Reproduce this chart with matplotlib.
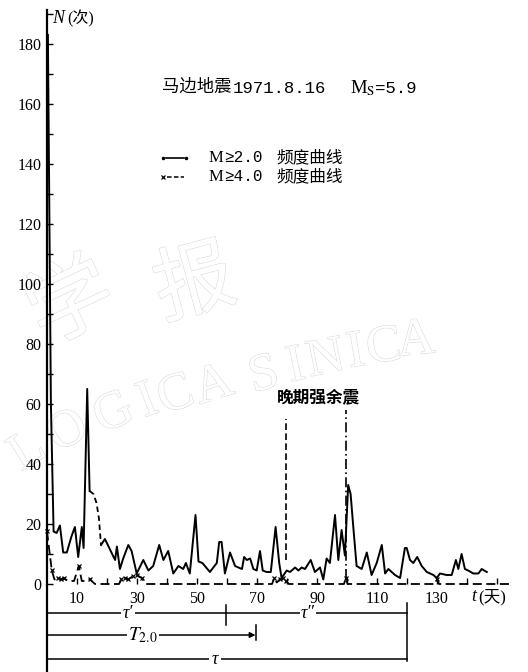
import numpy as np
import matplotlib.pyplot as plt
from matplotlib import patheffects

plt.rcParams['font.family'] = ['Liberation Serif', 'Noto Sans CJK SC']
plt.rcParams['mathtext.fontset'] = 'stix'

# M>=2.0 频度 (天, 次数)
t_m2 = [0.3, 1.3, 2.2, 3.2, 4.3, 5.4, 6.6, 8.2, 9.3, 10.4, 11.6, 12.2, 13.4, 14.2]
n_m2 = [183, 60, 17.5, 17, 19.5, 10.5, 10.5, 16, 19, 9, 19, 12, 65, 31]
# 14-18天 缺测段, 虚线连接
t_gap = [14.2, 15.5, 16.5, 17.3, 18.0]
n_gap = [31, 30, 27, 22, 13]
t_m2b = [18.0, 19.3, 21, 22.7, 23.3, 24.3, 25.4, 27.1, 28.2, 29.9, 32.1, 33.8, 35.4, 37.4,
         38.8, 40.4, 42.1, 43.8, 45.4, 46.3, 47.6, 49.5, 50.5, 51.8, 54.3, 56.6, 57.4, 58.2,
         59.3, 61, 62.7, 63.8, 65, 65.7, 66.6, 67.7, 68.8, 69.9, 71, 71.9, 73.2, 74.6, 76.2,
         77.4, 78.2, 79.9, 81, 82.7, 83.8, 84.9, 86, 87.9, 89.3, 91, 92.1, 93.2, 94.3, 96,
         97.1, 98.2, 99.3, 100.4, 101.2, 102.1, 103.2, 104.9, 106.6, 108.2, 109.9, 111.6,
         112.7, 113.8, 116, 117.7, 119.3, 119.9, 121, 122.1, 123.4, 124.9, 126.6, 128.8,
         129.9, 131, 133.2, 134.9, 136.3, 137.1, 138.2, 139.3, 140.4, 142.1, 143.8, 144.9, 146.6]
n_m2b = [13, 15, 11.5, 8, 12.5, 5, 8.5, 13, 11, 3.5, 8, 4.5, 6, 13,
         8, 11, 3.5, 6, 5, 7, 3.5, 23, 7.5, 7, 4, 7, 14, 14,
         3.5, 10.5, 6, 5.5, 5, 9, 8, 8.5, 5, 4.5, 11, 4.5, 4, 4, 19,
         7, 2, 4.5, 4, 5.5, 4.5, 5.5, 5, 8, 4, 5.5, 1.5, 8.5, 7, 23,
         8, 18, 9.5, 33, 30, 19, 6, 5, 10.5, 3, 7, 13,
         3.5, 5, 3, 2, 12, 12, 8, 7, 9, 6, 4, 3,
         2, 3.5, 3, 3, 8, 5, 10, 5, 4.5, 3.5, 3.5, 5, 4]

# M>=4.0 频度
t_m4 = [0, 0.8, 1.6, 2.5, 3.5, 4.5, 5.5, 7, 9, 10.6, 11.6, 13, 14.3, 16, 24, 24.8, 26, 27,
        28.5, 30, 31.5, 33, 75, 75.8, 76.6, 77.6, 78.6, 79.6, 80.6, 99, 99.6, 100.2, 129.3,
        130, 130.7, 154]
n_m4 = [17.5, 11, 4.5, 1.5, 2, 1.5, 2, 1, 1, 6, 1, 1, 1.5, 0, 0, 1.5, 2, 1.5,
        2.5, 3, 2, 0, 0, 2, 0.5, 1.5, 2, 1, 0, 0, 2, 0, 0,
        1.5, 0, 0]
mark_m4 = [1, 0, 1, 0, 1, 1, 1, 0, 0, 1, 0, 0, 1, 0, 0, 1, 1, 1,
           1, 1, 1, 0, 0, 1, 0, 1, 1, 1, 0, 0, 1, 0, 0,
           1, 0, 0]

x_ticks = list(range(10, 151, 10))
x_labels = [str(v) if v % 20 == 10 and v < 150 else '' for v in x_ticks]
y_ticks = list(range(0, 181, 20))

fig = plt.figure(figsize=(5.28, 6.72), dpi=100)
ax = fig.add_axes([47/528, 88/672, 462/528, 574/672])
ax.patch.set_alpha(0)
ax.set_xlim(0, 154)
ax.set_ylim(0, 191.3)

# 刊物水印
wm = dict(color='white', zorder=-5, ha='center', va='center',
          path_effects=[patheffects.withStroke(linewidth=0.7, foreground='#d6d6d6')])
letters = [('L', 28, 452, 32), ('O', 68, 432, 28), ('G', 114, 414, 24), ('I', 148, 402, 21),
           ('C', 176, 396, 19), ('A', 214, 386, 17), ('S', 264, 376, 14), ('I', 296, 367, 12),
           ('N', 326, 360, 11), ('I', 356, 353, 9), ('C', 384, 348, 7), ('A', 416, 341, 5)]
for ch, px, py, rot in letters:
    fig.text(px/528, 1 - py/672, ch, fontsize=38, rotation=rot, **wm)
fig.text(72/528, 1 - 305/672, '学', fontsize=62, rotation=25, family=['Noto Sans CJK SC'], **wm)
fig.text(195/528, 1 - 285/672, '报', fontsize=58, rotation=15, family=['Noto Sans CJK SC'], **wm)

ax.plot(t_m2, n_m2, color='k', lw=1.4)
ax.plot(t_gap, n_gap, color='k', lw=1.3, ls=(0, (3, 2)))
ax.plot(t_m2b, n_m2b, color='k', lw=1.4)

ax.plot(t_m4, n_m4, color='k', lw=1.3, ls=(0, (5, 2.5)), clip_on=False)
tx = [t for t, m in zip(t_m4, mark_m4) if m]
nx = [n for n, m in zip(n_m4, mark_m4) if m]
ax.plot(tx, nx, 'x', color='k', ms=3.5, mew=0.9, clip_on=False)

# 晚期强余震标线
ax.plot([79.8, 79.8], [8, 55], color='k', lw=1.2, ls=(0, (4, 2)))
ax.plot([99.5, 99.5], [1.5, 58], color='k', lw=1.2, ls=(0, (6, 2, 1, 2)))
ax.text(90.5, 62, '晚期强余震', fontsize=12, fontweight='bold',
        family=['Noto Sans CJK SC'], ha='center', va='center')

for s in ['top', 'right', 'bottom']:
    ax.spines[s].set_visible(False)
ax.spines['left'].set_linewidth(1.6)
ax.plot([0, 0], [0, -32], color='k', lw=1.6, clip_on=False, solid_capstyle='butt')

ax.set_xticks(x_ticks)
ax.set_xticklabels(x_labels)
ax.set_yticks(y_ticks)
ax.set_yticks(list(range(10, 191, 20)), minor=True)
ax.tick_params(axis='both', which='both', direction='in', length=4, width=1, labelsize=11.5)
ax.tick_params(axis='x', pad=5)
ax.tick_params(axis='y', pad=4)

# 坐标轴名称
ax.text(1.8, 188.5, 'N', fontsize=13, style='italic', va='center', ha='left')
ax.text(6.6, 188.5, '(次)', fontsize=11.5, va='center', ha='left')
ax.text(141.5, -4.3, 't', fontsize=13, style='italic', va='center', ha='left')
ax.text(143.8, -4.3, '(天)', fontsize=12, va='center', ha='left')

# 标题与图例
ax.text(38.3, 165.3, '马边地震', fontsize=12.5, va='center', ha='left')
ax.text(61.8, 165.3, '1971.8.16', fontsize=12.5, va='center', ha='left',
        family=['Liberation Mono'])
ax.text(101, 165.3, r'M$_\mathrm{S}$', fontsize=13.5, va='center', ha='left')
ax.text(109.2, 165.3, '=5.9', fontsize=12.5, va='center', ha='left',
        family=['Liberation Mono'])

ax.plot([39.5, 45.5], [142, 142], color='k', lw=1.2)
ax.plot([38.6, 46.3], [142, 142], 'o', color='k', ms=1.5)
ax.text(53.7, 142, 'M', fontsize=12, va='center', ha='left')
ax.text(59.2, 142, '≥2.0', fontsize=11.5, va='center', ha='left',
        family=['Liberation Mono', 'DejaVu Sans'])
ax.text(76.6, 142, '频度曲线', fontsize=12, va='center', ha='left',
        family=['Noto Sans CJK SC'])
ax.plot([40, 45.5], [135.7, 135.7], color='k', lw=1.1, ls=(0, (3, 1.5)))
ax.plot([38.6], [135.7], 'x', color='k', ms=3, mew=0.9)
ax.text(53.7, 135.7, 'M', fontsize=12, va='center', ha='left')
ax.text(59.2, 135.7, '≥4.0', fontsize=11.5, va='center', ha='left',
        family=['Liberation Mono', 'DejaVu Sans'])
ax.text(76.6, 135.7, '频度曲线', fontsize=12, va='center', ha='left',
        family=['Noto Sans CJK SC'])

# 下方时段标尺
y1, y2, y3 = -9.7, -17, -25
ax.plot([0, 120], [y1, y1], color='k', lw=1.1, clip_on=False)
ax.plot([59.5, 59.5], [-7, -13.7], color='k', lw=1.1, clip_on=False)
ax.plot([120, 120], [-6.3, -25.6], color='k', lw=1.1, clip_on=False)
ax.text(27, y1, 'τ′', fontsize=13, style='italic', ha='center', va='center',
        bbox=dict(fc='white', ec='none', pad=1))
ax.text(87, y1, 'τ″', fontsize=13, style='italic', ha='center', va='center',
        bbox=dict(fc='white', ec='none', pad=1))

ax.annotate('', xy=(69.5, y2), xytext=(0, y2), annotation_clip=False,
            arrowprops=dict(arrowstyle='-|>', color='k', lw=1.1, mutation_scale=8,
                            shrinkA=0, shrinkB=0))
ax.plot([69.5, 69.5], [-13.7, -18.7], color='k', lw=1.1, clip_on=False)
ax.text(32, y2, r'$T_{2.0}$', fontsize=14, ha='center', va='center',
        bbox=dict(fc='white', ec='none', pad=1))

ax.plot([0, 120], [y3, y3], color='k', lw=1.1, clip_on=False)
ax.text(56, y3, 'τ', fontsize=13, style='italic', ha='center', va='center',
        bbox=dict(fc='white', ec='none', pad=2))

fig.savefig('out.png', dpi=100)
